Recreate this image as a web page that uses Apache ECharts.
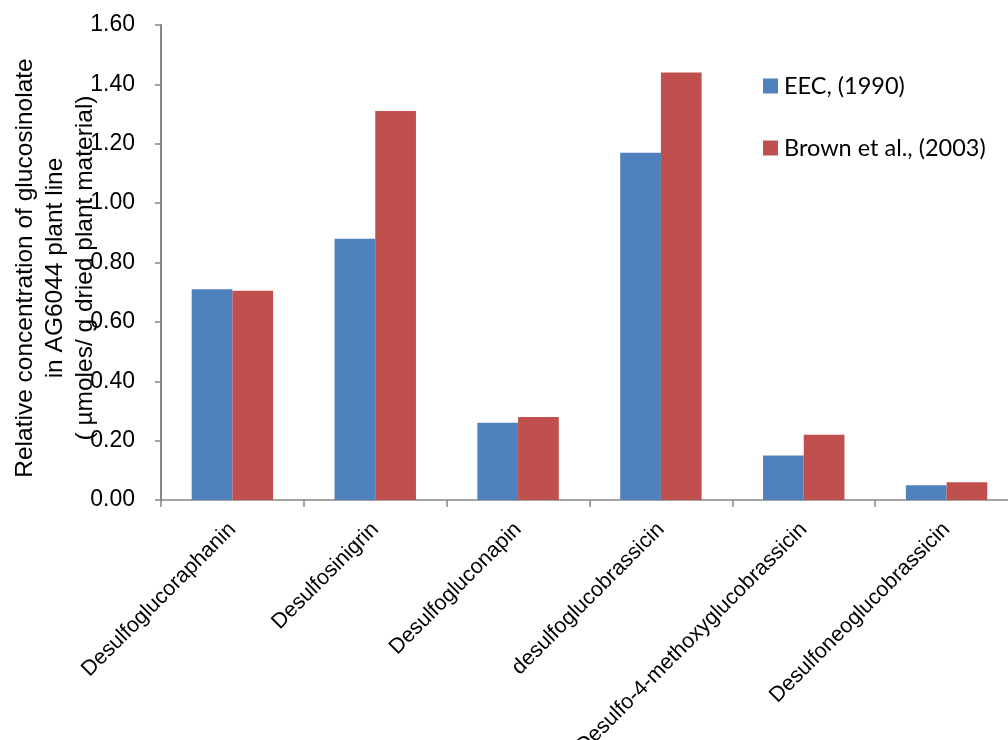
<!DOCTYPE html>
<html>
<head>
<meta charset="utf-8">
<script src="https://cdn.jsdelivr.net/npm/echarts@6/dist/echarts.min.js"></script>
<style>
  html, body { margin: 0; padding: 0; background: #fff; }
  #chart { width: 1008px; height: 740px; }
</style>
</head>
<body>
<div id="chart"></div>
<script>
// Glucosinolate compounds measured in the AG6044 plant line
const categories = [
  'Desulfoglucoraphanin',
  'Desulfosinigrin',
  'Desulfogluconapin',
  'desulfoglucobrassicin',
  'Desulfo-4-methoxyglucobrassicin',
  'Desulfoneoglucobrassicin'
];
const seriesNames = ['EEC, (1990)', 'Brown et al., (2003)'];
const eecValues = [0.71, 0.88, 0.26, 1.17, 0.15, 0.05];
const brownValues = [0.705, 1.31, 0.28, 1.44, 0.22, 0.06];
const yTicks = { min: 0, max: 1.6, interval: 0.2 };
const yTitleLines = [
  'Relative concentration of glucosinolate',
  'in AG6044 plant line',
  '( \u00b5moles/ g dried plant material)'
];

const axisGray = '#868686';
const chart = echarts.init(document.getElementById('chart'));

chart.setOption({
  animation: false,
  backgroundColor: '#ffffff',
  textStyle: { fontFamily: 'Liberation Sans, Arial, sans-serif' },
  grid: {
    left: 161, top: 25, bottom: 240, right: -10,
    containLabel: false,
    outerBoundsMode: 'none'
  },
  legend: {
    orient: 'vertical',
    left: 758,
    top: 69,
    itemGap: 38,
    itemWidth: 15,
    itemHeight: 15,
    icon: 'rect',
    data: seriesNames,
    textStyle: {
      fontFamily: 'Lato, Open Sans, sans-serif',
      fontSize: 23.5,
      color: '#000',
      padding: [0, 0, 0, 1]
    }
  },
  xAxis: {
    type: 'category',
    data: categories,
    axisLine: { lineStyle: { color: axisGray, width: 1.5 } },
    axisTick: { show: true, length: 7, lineStyle: { color: axisGray, width: 1.5 } },
    axisLabel: {
      interval: 0,
      rotate: 45,
      margin: 26,
      fontSize: 21.5,
      color: '#000',
      fontFamily: 'Liberation Sans, Arial, sans-serif'
    },
    splitLine: { show: false }
  },
  yAxis: {
    type: 'value',
    min: yTicks.min,
    max: yTicks.max,
    interval: yTicks.interval,
    axisLine: { show: true, lineStyle: { color: axisGray, width: 2 } },
    axisTick: { show: true, length: 6, lineStyle: { color: axisGray, width: 1.5 } },
    axisLabel: {
      margin: 26,
      fontSize: 23,
      color: '#000',
      formatter: v => v.toFixed(2)
    },
    splitLine: { show: false }
  },
  graphic: [{
    type: 'text',
    x: 55,
    y: 268,
    rotation: Math.PI / 2,
    style: {
      text: yTitleLines.join('\n'),
      fontSize: 24.5,
      lineHeight: 30,
      fontFamily: 'Liberation Sans, Arial, sans-serif',
      fill: '#000',
      align: 'center',
      verticalAlign: 'middle'
    },
    z: 10
  }],
  series: [
    {
      name: seriesNames[0],
      type: 'bar',
      data: eecValues,
      barGap: '0%',
      barCategoryGap: '43%',
      itemStyle: { color: '#4F81BD' }
    },
    {
      name: seriesNames[1],
      type: 'bar',
      data: brownValues,
      barGap: '0%',
      barCategoryGap: '43%',
      itemStyle: { color: '#C0504D' }
    }
  ]
});
</script>
</body>
</html>
